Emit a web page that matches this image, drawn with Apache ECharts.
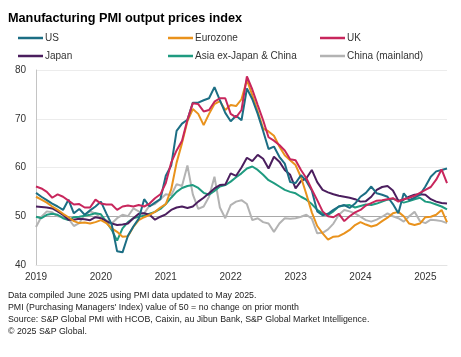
<!DOCTYPE html>
<html>
<head>
<meta charset="utf-8">
<script src="https://cdn.jsdelivr.net/npm/echarts@6/dist/echarts.min.js"></script>
<style>
html,body{margin:0;padding:0;background:#fff;}
#c{width:461px;height:357px;}
</style>
</head>
<body>
<div id="c"></div>
<script>
// Months Jan 2019 .. May 2025
const years = ['2019','2020','2021','2022','2023','2024','2025'];
const months = [];
years.forEach(y => { for (let m = 1; m <= 12; m++) { if (y === '2025' && m > 5) break; months.push(y + '-' + String(m).padStart(2, '0')); } });

const us = [54.8, 54.0, 53.3, 52.6, 52.0, 51.3, 53.4, 50.6, 51.5, 50.3, 51.2, 52.0,
 53.0, 50.6, 48.3, 42.8, 42.6, 46.0, 47.9, 49.5, 53.5, 52.0, 52.8, 53.5,
 58.3, 60.4, 67.5, 69.0, 69.8, 73.3, 73.3, 73.8, 74.2, 76.5, 73.8, 71.2,
 69.5, 70.6, 69.7, 76.2, 74.0, 71.0, 67.5, 63.8, 64.3, 62.2, 60.8, 57.0,
 56.8, 58.4, 57.2, 55.3, 51.0, 50.2, 50.5, 51.3, 52.0, 52.3, 51.7, 52.6,
 54.0, 54.8, 56.1, 54.7, 54.4, 54.0, 52.5, 50.6, 54.7, 53.3, 53.8, 54.4,
 56.1, 58.1, 59.2, 59.5, 59.8];
const eurozone = [54.0, 53.4, 52.8, 52.0, 51.3, 50.5, 49.8, 49.0, 48.6, 48.7, 48.5, 48.8,
 49.2, 48.6, 47.5, 46.8, 45.8, 45.9, 47.8, 49.2, 49.8, 50.3, 50.9, 51.8,
 52.5, 55.5, 61.0, 65.0, 69.5, 72.0, 71.0, 68.7, 71.0, 73.0, 73.6, 71.8,
 72.8, 72.6, 74.0, 78.0, 74.8, 71.5, 68.0, 67.4, 66.5, 64.3, 62.5, 61.5,
 60.5, 58.0, 54.5, 50.8, 48.0, 46.5, 45.2, 45.8, 45.9, 46.5, 47.2, 48.2,
 48.8, 48.3, 47.9, 48.2, 49.0, 49.7, 50.6, 50.9, 50.0, 48.5, 48.2, 48.5,
 49.8, 49.9, 50.3, 51.3, 48.8];
const uk = [56.1, 55.7, 55.0, 53.8, 54.5, 54.0, 53.2, 52.4, 52.5, 51.8, 51.8, 53.4,
 52.6, 52.4, 52.4, 51.3, 52.0, 52.2, 52.0, 52.3, 52.0, 52.6, 53.7, 54.5,
 56.8, 61.0, 63.5, 65.5, 69.8, 73.2, 73.0, 71.5, 71.8, 73.5, 74.2, 74.2,
 71.0, 70.3, 71.8, 78.7, 76.0, 72.8, 69.7, 66.2, 65.5, 64.6, 63.5, 61.7,
 61.5, 59.5, 57.8, 55.5, 53.3, 51.0, 50.0, 49.8, 50.5, 49.0, 50.0, 50.8,
 51.3, 52.2, 52.7, 53.2, 53.3, 53.5, 53.7, 53.0, 53.5, 53.8, 54.2, 54.8,
 55.4, 56.0, 57.5, 59.6, 56.8];
const japan = [52.0, 51.9, 51.8, 51.6, 51.0, 50.3, 49.3, 49.3, 49.5, 49.4, 49.2, 49.8,
 49.6, 49.0, 48.5, 48.2, 48.3, 48.5, 49.6, 50.5, 50.6, 50.3, 49.3, 49.9,
 50.4, 51.3, 51.8, 52.0, 51.7, 52.0, 53.0, 53.8, 54.7, 55.7, 56.4, 56.5,
 58.8, 58.3, 60.0, 62.0, 61.3, 62.6, 61.8, 59.8, 62.2, 61.2, 59.5, 58.5,
 55.7, 57.2, 57.8, 59.5, 57.0, 55.4, 54.9, 54.5, 54.2, 54.0, 53.8, 53.5,
 53.0, 53.1, 54.0, 55.4, 56.0, 56.2, 55.3, 53.2, 53.4, 54.0, 54.4, 54.5,
 54.4, 53.5, 53.0, 52.7, 52.6];
const asia = [49.9, 49.6, 50.3, 50.5, 50.3, 49.6, 49.2, 49.8, 49.9, 50.1, 50.3, 50.6,
 50.4, 48.9, 47.2, 45.0, 47.5, 48.8, 49.6, 49.9, 50.1, 50.5, 50.9, 51.5,
 52.5, 53.8, 55.0, 55.8, 56.2, 56.4, 55.8, 54.8, 54.4, 55.2, 56.1, 56.4,
 57.1, 58.0, 58.8, 59.8, 60.2, 59.5, 58.5, 57.4, 56.8, 56.1, 55.4, 55.0,
 54.7, 54.0, 53.4, 52.5, 51.3, 50.6, 50.3, 51.0, 52.0, 52.2, 52.3, 51.8,
 52.1, 52.4, 52.3, 52.6, 53.0, 53.4, 53.6, 53.2, 52.8, 53.1, 53.5, 53.8,
 53.0, 52.8, 52.4, 52.0, 51.4];
const china = [47.8, 49.9, 51.0, 50.8, 50.0, 49.9, 49.5, 48.0, 48.6, 50.3, 51.0, 50.6,
 49.6, 49.2, 48.5, 49.6, 50.3, 50.0, 51.6, 51.0, 50.6, 52.2, 52.5, 53.5,
 54.5, 54.3, 56.6, 56.2, 60.4, 54.5, 51.5, 52.0, 54.0, 58.1, 51.8, 49.6,
 52.3, 53.0, 53.3, 52.5, 49.2, 49.6, 48.8, 48.5, 46.8, 48.5, 49.6, 49.5,
 49.6, 49.9, 50.3, 49.5, 46.5, 46.6, 47.3, 48.5, 50.3, 51.3, 51.0, 50.6,
 49.9, 49.2, 48.9, 49.3, 49.9, 50.6, 50.0, 49.6, 48.9, 50.0, 50.9, 49.0,
 48.6, 49.3, 49.2, 49.0, 48.6];

const titleText = 'Manufacturing PMI output prices index';
const footLines = [
  'Data compiled June 2025 using PMI data updated to May 2025.',
  "PMI (Purchasing Managers' Index) value of 50 = no change on prior month",
  'Source: S&P Global PMI with HCOB, Caixin, au Jibun Bank, S&P Global Market Intelligence.',
  '\u00A9 2025 S&P Global.'
];

const FONT = 'Liberation Sans, Arial, sans-serif';
const seriesDefs = [
  { name: 'China (mainland)', data: china, color: '#b3b3b3' },
  { name: 'Asia ex-Japan & China', data: asia, color: '#1f9b80' },
  { name: 'Japan', data: japan, color: '#4b1e5e' },
  { name: 'Eurozone', data: eurozone, color: '#e9921c' },
  { name: 'US', data: us, color: '#1c6e84' },
  { name: 'UK', data: uk, color: '#c8265c' }
];

const legendPos = [
  { name: 'US', left: 18, top: 33 },
  { name: 'Eurozone', left: 168, top: 33 },
  { name: 'UK', left: 320, top: 33 },
  { name: 'Japan', left: 18, top: 51 },
  { name: 'Asia ex-Japan & China', left: 168, top: 51 },
  { name: 'China (mainland)', left: 320, top: 51 }
];

const chart = echarts.init(document.getElementById('c'), null, { renderer: 'canvas' });
chart.setOption({
  animation: false,
  backgroundColor: '#fff',
  textStyle: { fontFamily: FONT },
  title: {
    text: titleText, left: 8, top: 12, padding: 0,
    textStyle: { fontSize: 12.7, fontWeight: 'bold', color: '#000', fontFamily: FONT }
  },
  legend: legendPos.map(p => ({
    data: [p.name], left: p.left, top: p.top, padding: 0,
    icon: 'rect', itemWidth: 25, itemHeight: 2.5, selectedMode: false,
    textStyle: { fontSize: 10, color: '#333', fontFamily: FONT, padding: [0, 0, 0, -3] }
  })),
  grid: { left: 36, right: 14, top: 70, bottom: 92 },
  xAxis: {
    type: 'category', data: months, boundaryGap: false,
    axisLine: { show: true, lineStyle: { color: '#e3e3e3', width: 1 } },
    axisTick: { show: false },
    splitLine: { show: false },
    axisLabel: {
      interval: (idx, val) => val.endsWith('-01'),
      formatter: v => v.slice(0, 4),
      fontSize: 10, color: '#333', margin: 7, fontFamily: FONT
    }
  },
  yAxis: {
    type: 'value', min: 40, max: 80, interval: 10,
    axisLine: { show: true, lineStyle: { color: '#c4c4c4', width: 1 } },
    axisTick: { show: false },
    axisLabel: { fontSize: 10, color: '#333', margin: 10, fontFamily: FONT },
    splitLine: { show: true, lineStyle: { color: ['#e3e3e3', '#a9a9a9', '#ececec', '#ececec', '#ececec'], width: 1 } }
  },
  series: seriesDefs.map(s => ({
    name: s.name, type: 'line', data: s.data, showSymbol: false, symbol: 'none',
    lineStyle: { width: 2, color: s.color }, itemStyle: { color: s.color },
    emphasis: { disabled: true }
  })),
  graphic: [{
    type: 'text', left: 8, top: 289,
    style: { text: footLines.join('\n'), font: '8.8px ' + FONT, lineHeight: 12.3, fill: '#222' }
  }]
});
</script>
</body>
</html>
